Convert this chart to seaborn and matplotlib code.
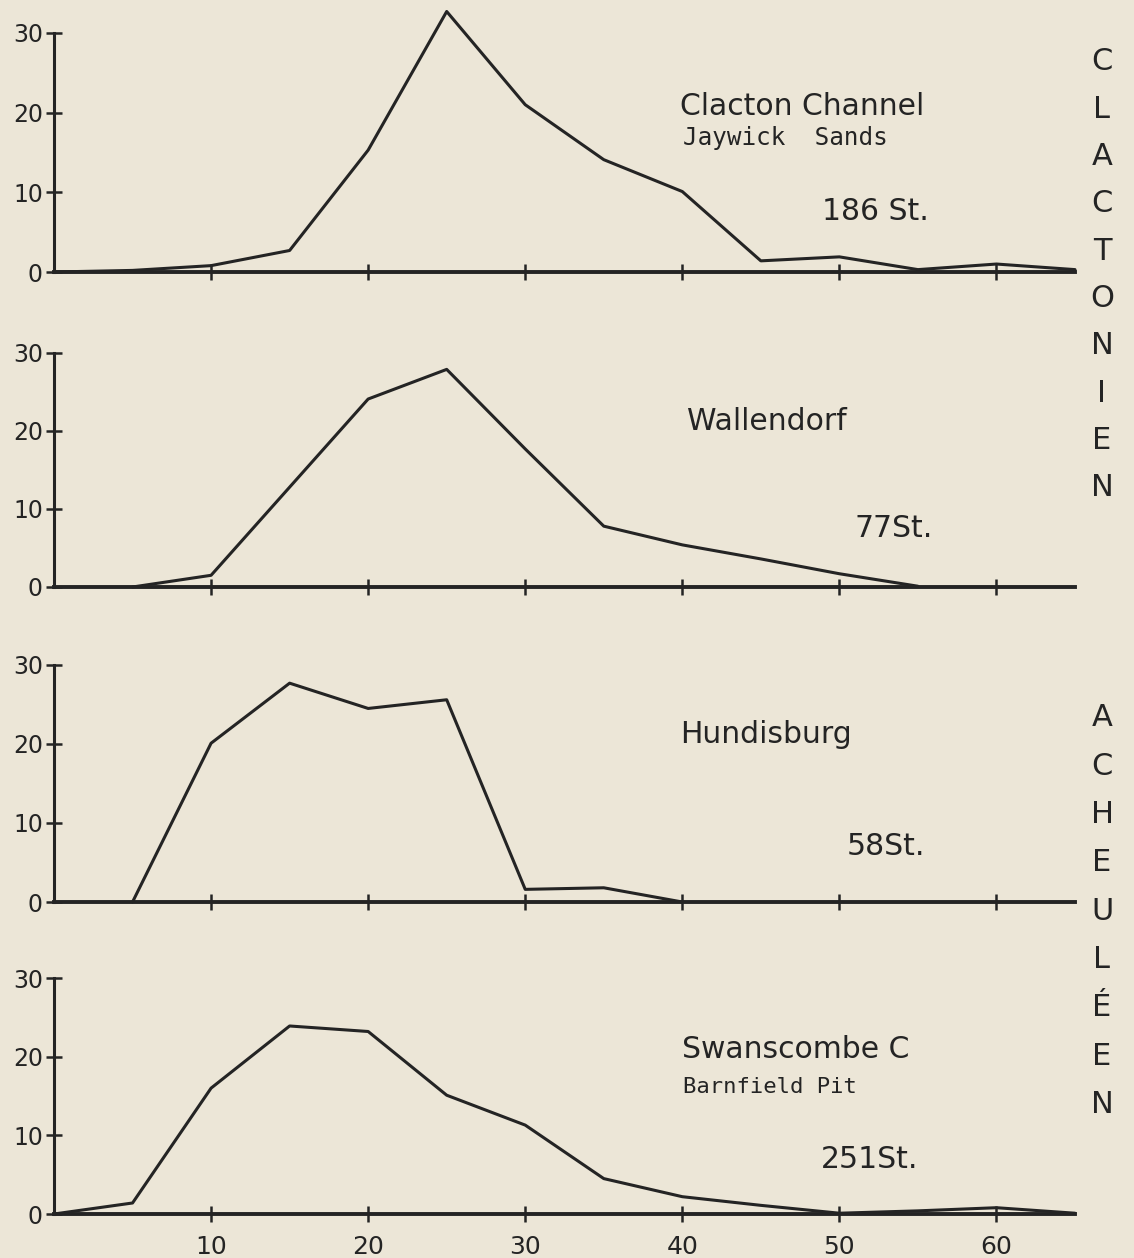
"""
size_distribution_panels.py

Four stacked size-distribution curves (Clactonien / Acheuléen sites).
"""

from __future__ import annotations

import matplotlib

matplotlib.use("Agg")
import matplotlib.pyplot as plt
import pandas as pd
import seaborn as sns

# percent of pieces per size class
clacton_x = [0, 5, 10, 15, 20, 25, 30, 35, 40, 45, 50, 55, 60, 65]
clacton_pct = [0, 0.2, 0.8, 2.7, 15.3, 32.7, 21.0, 14.1, 10.1, 1.4, 1.9, 0.3, 1.0, 0.3]

wallendorf_x = [5, 10, 15, 20, 25, 30, 35, 40, 45, 50, 55]
wallendorf_pct = [0, 1.5, 12.8, 24.1, 27.9, 17.7, 7.8, 5.4, 3.6, 1.7, 0.1]

hundisburg_x = [5, 10, 15, 20, 25, 30, 35, 40]
hundisburg_pct = [0, 20.1, 27.7, 24.5, 25.6, 1.6, 1.8, 0]

swanscombe_x = [0, 5, 10, 15, 20, 25, 30, 35, 40, 45, 50, 55, 60, 65]
swanscombe_pct = [0, 1.4, 16.0, 23.9, 23.2, 15.1, 11.3, 4.5, 2.2, 1.1, 0.1, 0.4, 0.8, 0.1]

site_names = ["Clacton Channel", "Wallendorf", "Hundisburg", "Swanscombe C"]
site_subtitles = ["Jaywick  Sands", "", "", "Barnfield Pit"]
site_counts = ["186 St.", "77St.", "58St.", "251St."]

x_ticks = [10, 20, 30, 40, 50, 60]
y_ticks = [0, 10, 20, 30]

INK = "#242424"
PAPER = "#ece6d7"
W, H = 1134, 1258


def build_frame() -> pd.DataFrame:
    parts = []
    for name, xs, ys in zip(
        site_names,
        [clacton_x, wallendorf_x, hundisburg_x, swanscombe_x],
        [clacton_pct, wallendorf_pct, hundisburg_pct, swanscombe_pct],
    ):
        parts.append(pd.DataFrame({"site": name, "size": xs, "pct": ys}))
    return pd.concat(parts, ignore_index=True)


def ftext(x_px, y_px, s, **kw):
    plt.gcf().text(x_px / W, 1 - y_px / H, s, color=INK, **kw)


def main():
    sns.set_theme(style="ticks")
    plt.rcParams["font.family"] = ["DejaVu Sans"]
    df = build_frame()

    fig = plt.figure(figsize=(W / 100, H / 100), dpi=100, facecolor=PAPER)

    # pixel rows of the zero line and the 30 line for each panel
    rows = [(272, 33), (587, 353), (902, 665), (1214, 978)]
    left, right = 54, 1075
    name_pos = [(680, 115), (687, 430), (680, 743), (682, 1058)]
    sub_pos = [(683, 145), None, None, (683, 1093)]
    sub_size = [17.5, 0, 0, 16]
    count_pos = [(929, 220), (933, 537), (925, 855), (918, 1168)]

    for i, (site, (y0, y30)) in enumerate(zip(site_names, rows)):
        h = (y0 - y30) * 34 / 30
        ax = fig.add_axes([left / W, 1 - y0 / H, (right - left) / W, h / H])
        ax.set_facecolor("none")
        sns.lineplot(
            data=df[df["site"] == site], x="size", y="pct",
            color=INK, linewidth=2.2, ax=ax, clip_on=False,
        )
        ax.set_xlim(0, 65)
        ax.set_ylim(0, 34)
        ax.set_xlabel("")
        ax.set_ylabel("")
        for s in ["top", "right"]:
            ax.spines[s].set_visible(False)
        ax.spines["left"].set_bounds(0, 30)
        ax.spines["left"].set_linewidth(2.2)
        ax.spines["bottom"].set_linewidth(2.8)
        ax.spines["left"].set_color(INK)
        ax.spines["bottom"].set_color(INK)
        ax.set_xticks(x_ticks)
        ax.set_yticks(y_ticks)
        ax.tick_params(direction="inout", length=12, width=1.8, colors=INK,
                       labelsize=17, pad=2)
        ax.tick_params(axis="x", pad=9, labelsize=18)
        if i < 3:
            ax.set_xticklabels([])

        ftext(*name_pos[i], site, fontsize=21.5, ha="left", va="baseline")
        if sub_pos[i]:
            ftext(*sub_pos[i], site_subtitles[i], fontsize=sub_size[i],
                  family="DejaVu Sans Mono", ha="left", va="baseline")
        ftext(*count_pos[i], site_counts[i], fontsize=21.5, ha="right",
              va="baseline")

    # vertical culture names on the right
    for k, ch in enumerate("CLACTONIEN"):
        ftext(1102, 62 + 47.3 * k, ch, fontsize=22, ha="center", va="center")
    for k, ch in enumerate("ACHEULÉEN"):
        ftext(1102, 718 + 48.3 * k, ch, fontsize=22, ha="center", va="center")

    fig.savefig("out.png", dpi=100, facecolor=PAPER)


if __name__ == "__main__":
    main()
